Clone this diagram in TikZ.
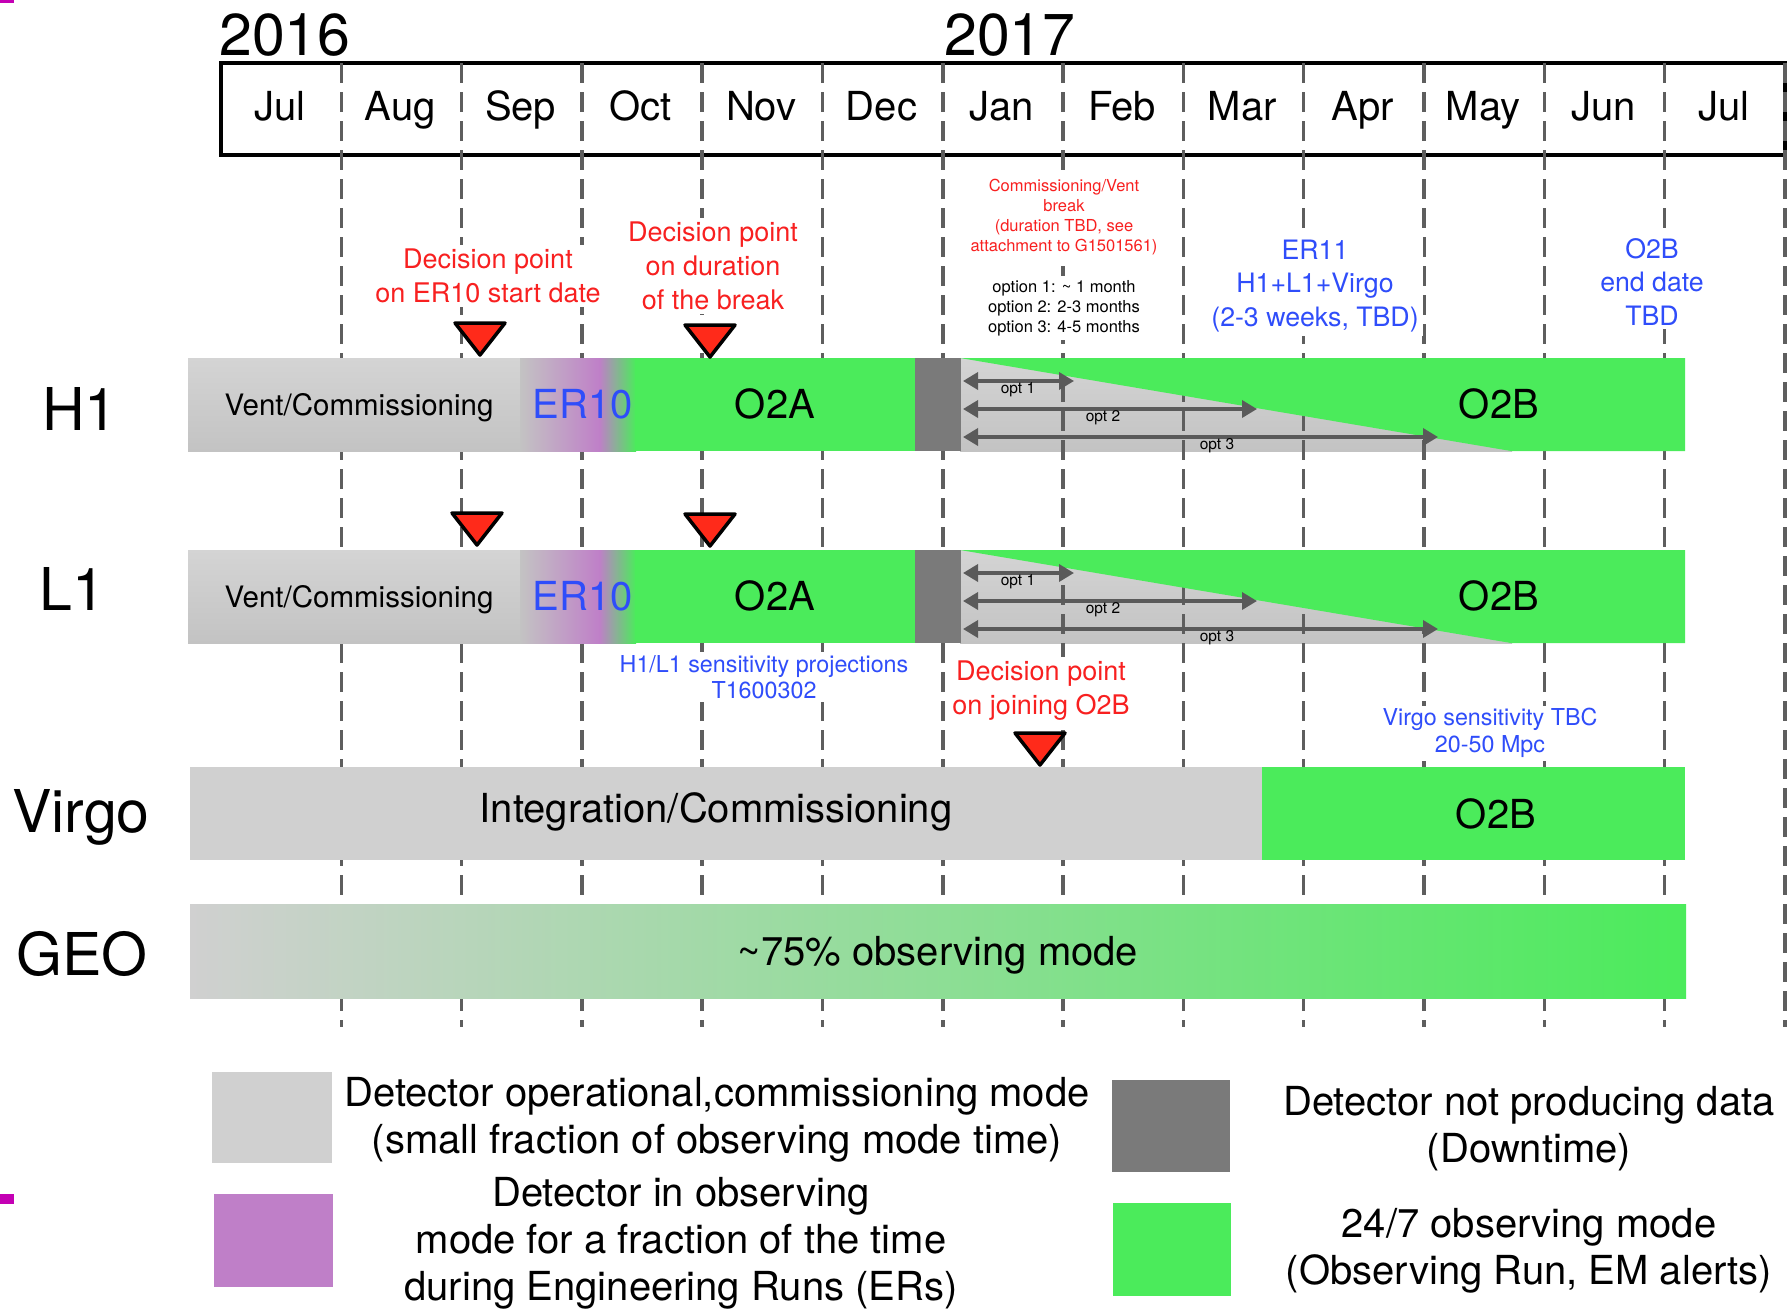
\documentclass[tikz,border=0pt]{standalone}
\usepackage{fontspec}
\setmainfont{TeX Gyre Heros}
\usepackage{tikz}
\usetikzlibrary{arrows.meta,positioning}
\definecolor{obsgreen}{HTML}{4BEB5B}
\definecolor{opgray}{HTML}{D0D0D0}
\definecolor{comtop}{HTML}{D4D4D4}
\definecolor{combot}{HTML}{C3C3C3}
\definecolor{erpurple}{HTML}{BF7FC8}
\definecolor{downgray}{HTML}{7A7A7A}
\definecolor{sepgray}{HTML}{5E5E5E}
\definecolor{arrgray}{HTML}{5A5A5A}
\definecolor{markred}{HTML}{FF2A1A}
\definecolor{txtred}{HTML}{F82020}
\definecolor{txtblue}{HTML}{2F4DFA}
\definecolor{glitch}{HTML}{C400B4}

% red decision-point marker: centre x, top y
\newcommand{\dmark}[2]{%
  \filldraw[fill=markred,draw=black,line width=3.5pt,line join=round]
    (#1-25,#2) -- (#1+25,#2) -- (#1,#2+32) -- cycle;}

\begin{document}
\begin{tikzpicture}[x=1pt,y=-1pt,
  monthsep/.style={sepgray,line width=3.5pt,dash pattern=on 20pt off 9pt},
  optarrow/.style={arrgray,line width=3.5pt,>={Triangle[length=15pt,width=17pt]},<->},
  det/.style={font=\fontsize{59}{70}\selectfont,anchor=base},
  mon/.style={font=\fontsize{40}{48}\selectfont,anchor=base},
  big/.style={font=\fontsize{40}{48}\selectfont,anchor=base},
  vc/.style={font=\fontsize{29.5}{35}\selectfont,anchor=base},
  opt/.style={font=\fontsize{15.5}{18}\selectfont},
  note/.style={text=txtred,fill=white,inner sep=4pt,align=center,font=\fontsize{27}{34}\selectfont},
  tiny/.style={fill=white,inner sep=4pt,align=center,font=\fontsize{16.5}{20}\selectfont},
  bnote/.style={text=txtblue,fill=white,inner sep=4pt,align=center,font=\fontsize{26.7}{33.5}\selectfont},
  bsmall/.style={text=txtblue,fill=white,inner sep=3pt,align=center,font=\fontsize{23.3}{26.5}\selectfont},
  leg/.style={align=center,font=\fontsize{40}{47}\selectfont}]
  \useasboundingbox (0,0) rectangle (1788,1309);

  % months
  \draw[line width=4pt] (221,63) rectangle (1785,155);
  \node[anchor=base west,inner sep=0,font=\fontsize{59}{70}\selectfont] (y2016) at (219,55) {2016};
  \node[anchor=base west,inner sep=0,font=\fontsize{59}{70}\selectfont] (y2017) at (944,55) {2017};
  \foreach \m [count=\i from 0] in {Jul,Aug,Sep,Oct,Nov,Dec,Jan,Feb,Mar,Apr,May,Jun,Jul}
    \node[mon] (m\i) at ({280+120.3*\i},120) {\m};

  % grey part of the break sits under the month lines
  \foreach \t in {358,550}
    \fill[top color=comtop,bottom color=combot] (960,\t) rectangle (1512,\t+93);
  \foreach \i in {1,...,13}
    \draw[monthsep] ({221+120.3*\i},63) -- ({221+120.3*\i},1027);

  % H1 and L1
  \foreach \t/\d in {358/H1,550/L1}{
    \fill[top color=comtop,bottom color=combot] (188,\t) rectangle (521,\t+93);
    \shade[left color=combot,right color=erpurple] (520,\t) rectangle (600,\t+93);
    \shade[left color=erpurple,right color=obsgreen] (599,\t) rectangle (636,\t+93);
    \fill[obsgreen] (635,\t) rectangle (915,\t+93);
    \fill[downgray] (915,\t) rectangle (961,\t+93);
    \fill[obsgreen] (960,\t) -- (1685,\t) -- (1685,\t+93) -- (1511,\t+93) -- cycle;
    \foreach \k/\e/\lx in {1/1074/1018,2/1257/1103,3/1438/1217}{
      \coordinate (s\k\d) at (963,\t+28*\k-5);
      \coordinate (e\k\d) at (\e,\t+28*\k-5);
      \draw[optarrow] (s\k\d) -- (e\k\d);
      \node[opt] (o\k\d) at (\lx,\t+28*\k+4) {opt \k};
    }
    \node[vc] (vent\d) at (359,\t+57) {Vent/Commissioning};
    \node[big,txtblue] (er\d) at (583,\t+60) {ER10};
    \node[big] (oa\d) at (775,\t+60) {O2A};
    \node[big] (ob\d) at (1499,\t+60) {O2B};
  }
  \node[det] (H1) at (80,430) {H1};
  \node[det] (L1) at (72,610) {L1};

  % Virgo and GEO
  \fill[opgray] (190,767) rectangle (1263,860);
  \fill[obsgreen] (1262,767) rectangle (1685,860);
  \node[big] (integ) at (716,822) {Integration/Commissioning};
  \node[big] (obV) at (1496,828) {O2B};
  \node[det] (Virgo) at (81,832) {Virgo};
  \shade[left color=opgray,right color=obsgreen] (190,904) rectangle (1686,998);
  \node[big] (geotxt) at (938,965) {\textasciitilde75\% observing mode};
  \node[det] (GEO) at (82,975) {GEO};

  % decision points
  \dmark{480}{323}
  \dmark{710}{325}
  \dmark{477}{513}
  \dmark{710}{514}
  \dmark{1040}{733}

  % notes
  \node[note] (dpER) at (488,276) {Decision point\\on ER10 start date};
  \node[note] (dpbreak) at (713,266) {Decision point\\on duration\\of the break};
  \node[note] (dpO2B) at (1041,691) {Decision point\\on joining O2B};
  \node[tiny,text=txtred] (vent) at (1064,217) {Commissioning/Vent\\break\\(duration TBD, see\\attachment to G1501561)};
  \node[tiny] (opts) at (1064,308) {option 1: \textasciitilde{} 1 month\\option 2: 2-3 months\\option 3: 4-5 months};
  \node[bnote] (er11) at (1315,286) {ER11\\H1+L1+Virgo\\(2-3 weeks, TBD)};
  \node[bnote] (o2bend) at (1652,282) {O2B\\end date\\TBD};
  \node[bsmall] (sens) at (764,677) {H1/L1 sensitivity projections\\T1600302};
  \node[bsmall] (vsens) at (1490,733) {Virgo sensitivity TBC\\20-50 Mpc};

  % legend
  \fill[opgray] (212,1072) rectangle (332,1163);
  \fill[erpurple] (214,1194) rectangle (333,1287);
  \fill[downgray] (1112,1080) rectangle (1230,1172);
  \fill[obsgreen] (1113,1203) rectangle (1231,1296);
  \node[leg] (lgop) at (717,1120) {Detector operational,commissioning mode\\(small fraction of observing mode time)};
  \node[leg] (lger) at (681,1243) {Detector in observing\\mode for a fraction of the time\\during Engineering Runs (ERs)};
  \node[leg] (lgdown) at (1529,1129) {Detector not producing data\\(Downtime)};
  \node[leg] (lgobs) at (1529,1251) {24/7 observing mode\\(Observing Run, EM alerts)};

  \fill[glitch] (0,0) rectangle (14,3);
  \fill[glitch] (0,1194) rectangle (14,1204);
\end{tikzpicture}
\end{document}
